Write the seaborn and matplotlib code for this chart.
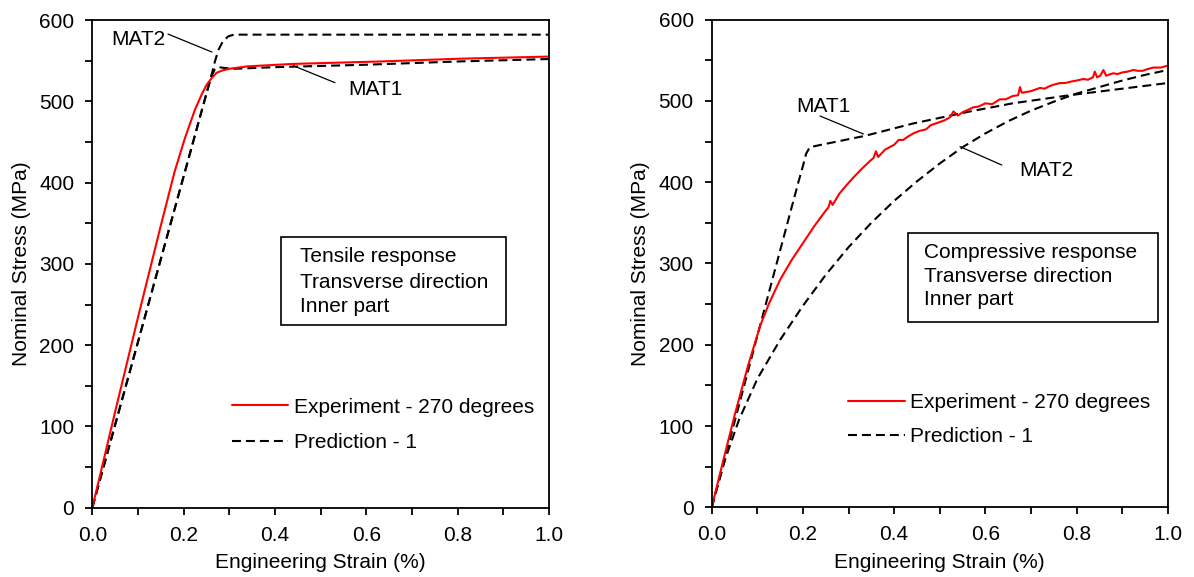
import numpy as np
import pandas as pd
import matplotlib
matplotlib.use("Agg")
import matplotlib.pyplot as plt
import seaborn as sns
from matplotlib.patches import Rectangle

# ---------------- data ----------------
# Left panel: tensile response
tens_exp_strain = [0.0, 0.02, 0.05, 0.10, 0.15, 0.18, 0.203, 0.225, 0.24, 0.25, 0.262,
                   0.272, 0.285, 0.30, 0.34, 0.44, 0.63, 0.81, 1.0]
tens_exp_stress = [0, 47, 118, 234, 347, 413, 455, 490, 509, 520, 529,
                   535, 538, 540, 543, 546, 549, 552.5, 555]

tens_mat1_strain = [0.0, 0.26, 0.268, 0.276, 0.29, 0.31, 0.40, 0.60, 0.80, 1.0]
tens_mat1_stress = [0, 530, 539, 542, 541, 540, 542, 545, 549, 552]

tens_mat2_strain = [0.0, 0.26, 0.268, 0.276, 0.286, 0.298, 0.31, 1.0]
tens_mat2_stress = [0, 530, 548, 563, 574, 580, 582, 582]

# Right panel: compressive response
comp_exp_strain = [0.0, 0.025, 0.051, 0.08, 0.106, 0.125, 0.15, 0.175, 0.2, 0.225, 0.25,
                   0.256, 0.26, 0.265, 0.28, 0.295, 0.311, 0.33, 0.345, 0.355, 0.36, 0.365,
                   0.38, 0.39, 0.40, 0.41, 0.42, 0.43, 0.442, 0.455, 0.47, 0.48, 0.49,
                   0.50, 0.51, 0.523, 0.53, 0.54, 0.55, 0.566, 0.573, 0.585, 0.60, 0.615,
                   0.632, 0.645, 0.66, 0.672, 0.676, 0.68, 0.69, 0.70, 0.71, 0.72, 0.73,
                   0.74, 0.75, 0.764, 0.775, 0.79, 0.80, 0.815, 0.825, 0.836, 0.84, 0.845,
                   0.852, 0.859, 0.865, 0.88, 0.89, 0.90, 0.912, 0.924, 0.935, 0.945,
                   0.955, 0.968, 0.985, 0.997]
comp_exp_stress = [0, 57, 115, 175, 223, 250, 280, 304, 325, 346, 365,
                   369, 377, 372, 386, 396, 406, 417, 425, 430, 438, 431,
                   440, 443, 446, 452, 452, 456, 460, 463, 465, 470, 472,
                   474, 476, 480, 487, 482, 486, 490, 492, 493, 497, 496,
                   502, 502, 506, 507, 517, 510, 511, 512, 514, 516, 515,
                   518, 520, 522, 522, 524, 525, 527, 526, 529, 536, 529,
                   531, 538, 531, 534, 533, 535, 536, 538, 537, 537,
                   539, 541, 541, 543]

comp_mat1_strain = [0.0, 0.05, 0.10, 0.15, 0.19, 0.20, 0.207, 0.215, 0.24, 0.336, 0.44,
                    0.566, 0.66, 0.785, 0.90, 1.0]
comp_mat1_stress = [0, 105, 211, 316, 400, 420, 435, 443, 446, 457, 472,
                    487, 497, 507, 515, 522]

comp_mat2_strain = [0.0, 0.03, 0.06, 0.10, 0.15, 0.20, 0.25, 0.30, 0.35, 0.40, 0.45,
                    0.50, 0.55, 0.60, 0.65, 0.70, 0.75, 0.80, 0.85, 0.90, 0.95, 1.0]
comp_mat2_stress = [0, 60, 108, 158, 206, 248, 286, 320, 350, 377, 401,
                    423, 443, 460, 475, 488, 499, 509, 517, 525, 532, 538]

legend_labels = ["Experiment - 270 degrees", "Prediction - 1"]
box_text_left = ["Tensile response", "Transverse direction", "Inner part"]
box_text_right = ["Compressive response", "Transverse direction", "Inner part"]
x_label = "Engineering Strain (%)"
y_label = "Nominal Stress (MPa)"
x_ticks = [0.0, 0.2, 0.4, 0.6, 0.8, 1.0]
y_ticks = [0, 100, 200, 300, 400, 500, 600]

# annotation: (text, text_x, text_y, line_x0, line_y0, line_x1, line_y1)
ann_left = [("MAT2", 0.101, 569.3, 0.1657, 582.7, 0.2621, 560.6),
            ("MAT1", 0.619, 507.8, 0.5314, 522.9, 0.4401, 543.8)]
ann_right = [("MAT1", 0.2447, 486.7, 0.2375, 481.4, 0.3325, 459.3),
             ("MAT2", 0.7346, 407.6, 0.636, 421.1, 0.5445, 443.7)]

# ---------------- style ----------------
sns.set_theme(style="ticks")
plt.rcParams["font.family"] = ["Liberation Sans", "DejaVu Sans"]
FS = 15
plt.rcParams.update({
    "font.size": FS,
    "axes.linewidth": 1.3,
    "axes.edgecolor": "black",
    "xtick.color": "black",
    "ytick.color": "black",
    "text.color": "black",
    "axes.labelcolor": "black",
})

fig = plt.figure(figsize=(11.94, 5.77), dpi=100)
ax_l = fig.add_axes([0.0773, 0.1201, 0.3825, 0.8452])
ax_r = fig.add_axes([0.5961, 0.1208, 0.3819, 0.8452])

DASH = (0, (4.3, 2.4))


def draw(ax, exp_x, exp_y, m1_x, m1_y, m2_x, m2_y, box_lines, box_rect, text_x, baselines,
         leg_anchor, leg_spacing, anns):
    df_m1 = pd.DataFrame({"strain": m1_x, "stress": m1_y})
    df_m2 = pd.DataFrame({"strain": m2_x, "stress": m2_y})
    df_e = pd.DataFrame({"strain": exp_x, "stress": exp_y})
    sns.lineplot(data=df_m1, x="strain", y="stress", ax=ax, color="black", lw=1.5,
                 linestyle=DASH, sort=False, estimator=None, label=legend_labels[1])
    sns.lineplot(data=df_m2, x="strain", y="stress", ax=ax, color="black", lw=1.5,
                 linestyle=DASH, sort=False, estimator=None, label="_nolegend_")
    sns.lineplot(data=df_e, x="strain", y="stress", ax=ax, color="red", lw=1.5,
                 sort=False, estimator=None, label=legend_labels[0])

    ax.set_xlim(0, 1.0)
    ax.set_ylim(0, 600)
    ax.set_xticks(x_ticks)
    ax.set_xticklabels([f"{v:.1f}" for v in x_ticks])
    ax.set_xticks(np.arange(0.1, 1.0, 0.2), minor=True)
    ax.set_yticks(y_ticks)
    ax.set_yticklabels([str(v) for v in y_ticks])
    ax.set_yticks(np.arange(50, 600, 100), minor=True)
    ax.tick_params(which="both", direction="out", length=5, width=1.3, labelsize=FS,
                   top=False, right=False)
    ax.tick_params(axis="x", which="major", pad=8)
    ax.tick_params(axis="y", which="major", pad=8)
    for s in ax.spines.values():
        s.set_visible(True)
        s.set_linewidth(1.3)
        s.set_color("black")
    ax.set_xlabel(x_label, fontsize=FS, labelpad=6)
    ax.set_ylabel(y_label, fontsize=FS, labelpad=6)

    # text box
    x0, y0, x1, y1 = box_rect
    ax.add_patch(Rectangle((x0, y0), x1 - x0, y1 - y0, transform=ax.transAxes,
                           fill=False, edgecolor="black", lw=1.2, zorder=5))
    for line, yb in zip(box_lines, baselines):
        ax.text(text_x, yb, line, transform=ax.transAxes, fontsize=FS,
                ha="left", va="baseline")

    # legend
    handles, labels = ax.get_legend_handles_labels()
    order = [labels.index(legend_labels[0]), labels.index(legend_labels[1])]
    ax.legend([handles[i] for i in order], [labels[i] for i in order],
              loc="upper left", bbox_to_anchor=leg_anchor, frameon=False,
              fontsize=FS, handlelength=2.7, handletextpad=0.25,
              borderpad=0, borderaxespad=0, labelspacing=leg_spacing)

    # annotations
    for txt, tx, ty, lx0, ly0, lx1, ly1 in anns:
        ax.plot([lx0, lx1], [ly0, ly1], color="black", lw=0.9)
        ax.text(tx, ty, txt, fontsize=FS, ha="center", va="baseline")


draw(ax_l, tens_exp_strain, tens_exp_stress, tens_mat1_strain, tens_mat1_stress,
     tens_mat2_strain, tens_mat2_stress, box_text_left,
     (0.414, 0.3746, 0.906, 0.5557), 0.4548, [0.5033, 0.4512, 0.4006],
     (0.306, 0.2255), 0.78, ann_left)

draw(ax_r, comp_exp_strain, comp_exp_stress, comp_mat1_strain, comp_mat1_stress,
     comp_mat2_strain, comp_mat2_stress, box_text_right,
     (0.4305, 0.380, 0.9787, 0.5624), 0.4656, [0.5118, 0.4626, 0.4148],
     (0.2996, 0.2335), 0.71, ann_right)

fig.savefig("out.png", dpi=100)
